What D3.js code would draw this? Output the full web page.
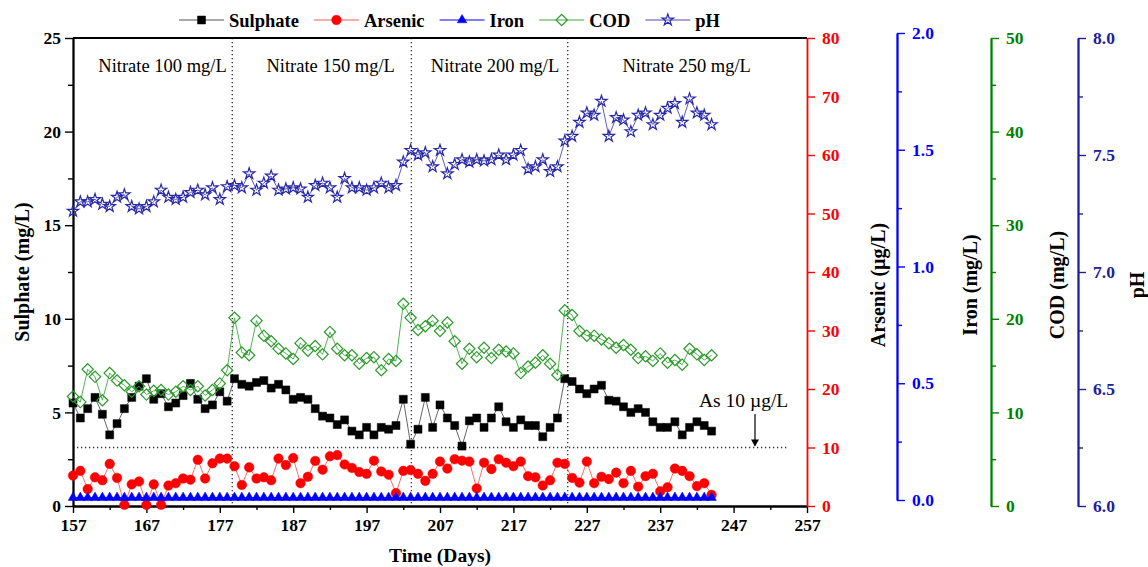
<!DOCTYPE html>
<html>
<head>
<meta charset="utf-8">
<script src="https://cdn.jsdelivr.net/npm/d3@7"></script>
<style>
  body { margin: 0; background: #fff; }
  text { font-family: "Liberation Serif", "Times New Roman", serif; }
</style>
</head>
<body>
<div id="chart"></div>
<script>
var days = [157,158,159,160,161,162,163,164,165,166,167,168,169,170,171,172,173,174,175,176,177,178,
  179,180,181,182,183,184,185,186,187,188,189,190,191,192,193,194,195,196,197,198,199,200,
  201,202,203,204,205,206,207,208,209,210,211,212,213,214,215,216,217,218,219,220,221,222,
  223,224,225,226,227,228,229,230,231,232,233,234,235,236,237,238,239,240,241,242,243,244];

var sulphate = [5.5,4.7,5.2,5.8,4.9,3.8,4.4,5.2,5.8,6.4,6.8,5.7,6.0,5.3,5.5,5.9,6.55,5.7,5.2,5.4,6.1,5.6,
  6.8,6.5,6.4,6.6,6.7,6.3,6.5,6.2,5.7,5.8,5.7,5.2,4.8,4.7,4.35,4.6,4.0,3.8,4.2,3.8,4.2,4.1,
  4.3,5.7,3.3,4.1,5.8,4.2,5.4,4.7,4.3,3.2,4.55,4.7,4.2,4.7,5.3,4.5,4.2,4.6,4.3,4.3,3.7,4.2,
  4.7,6.8,6.65,6.25,6.0,6.25,6.45,5.65,5.6,5.3,5.0,5.2,5.0,4.5,4.2,4.2,4.5,3.8,4.2,4.5,4.3,4.0];

var arsenic = [5.2,6.0,2.9,4.9,4.4,7.2,4.8,0.2,3.7,4.2,0.2,3.7,0.2,3.5,3.9,4.7,4.5,7.9,4.7,7.3,8.1,8.1,
  6.8,3.6,6.6,4.7,4.9,4.4,8.1,7.0,8.2,3.9,5.0,7.7,6.2,8.5,8.7,7.1,6.5,5.8,5.5,7.75,5.9,5.35,
  2.2,6.0,6.15,5.5,4.3,5.5,7.6,6.4,8.0,7.75,7.6,3.0,7.4,6.3,8.0,7.4,6.8,7.6,5.1,4.9,3.5,4.4,
  7.4,7.2,4.8,4.0,7.6,3.9,5.0,4.6,5.7,3.9,6.0,3.3,5.1,5.5,2.5,3.2,6.4,6.0,5.1,3.4,3.9,1.9];

var iron = [0.01,0.01,0.01,0.01,0.01,0.01,0.01,0.01,0.01,0.01,0.01,0.01,0.01,0.01,0.01,0.01,0.01,0.01,0.01,0.01,0.01,0.01,
  0.01,0.01,0.01,0.01,0.01,0.01,0.01,0.01,0.01,0.01,0.01,0.01,0.01,0.01,0.01,0.01,0.01,0.01,0.01,0.01,0.01,0.01,
  0.01,0.01,0.01,0.01,0.01,0.01,0.01,0.01,0.01,0.01,0.01,0.01,0.01,0.01,0.01,0.01,0.01,0.01,0.01,0.01,0.01,0.01,
  0.01,0.01,0.01,0.01,0.01,0.01,0.01,0.01,0.01,0.01,0.01,0.01,0.01,0.01,0.01,0.01,0.01,0.01,0.01,0.01,0.01,0.01];

var cod = [11.7,11.1,14.6,13.8,11.3,14.2,13.4,12.9,12.2,12.8,11.9,12.3,12.4,11.9,12.2,12.8,12.4,12.8,11.8,12.4,13.1,14.5,
  20.1,16.4,16.1,19.8,18.2,17.6,16.8,16.3,15.7,17.4,16.6,17.1,16.2,18.6,16.8,16.1,16.1,15.2,15.8,15.9,14.5,15.7,
  15.5,21.6,20.1,18.8,19.2,19.8,18.7,19.6,17.6,15.2,16.8,15.9,16.9,15.8,16.7,16.5,16.3,14.2,14.9,15.3,16.1,15.2,
  14.0,20.9,20.4,18.7,18.2,18.2,17.8,17.4,16.9,17.2,16.7,15.8,16.0,15.5,16.3,15.3,15.6,15.1,16.8,16.2,15.6,16.1];

var ph = [7.26,7.30,7.30,7.31,7.29,7.28,7.32,7.33,7.28,7.27,7.28,7.30,7.35,7.32,7.31,7.32,7.34,7.35,7.33,7.36,7.31,7.365,
  7.37,7.36,7.42,7.35,7.38,7.41,7.35,7.355,7.36,7.355,7.32,7.37,7.38,7.36,7.32,7.40,7.36,7.36,7.35,7.36,7.38,7.36,
  7.37,7.47,7.52,7.50,7.51,7.45,7.52,7.42,7.46,7.48,7.47,7.48,7.475,7.48,7.50,7.48,7.50,7.52,7.44,7.45,7.48,7.43,
  7.45,7.56,7.58,7.64,7.68,7.67,7.73,7.58,7.66,7.65,7.60,7.67,7.68,7.63,7.67,7.70,7.72,7.64,7.74,7.68,7.67,7.63];

var xTicks = [157,167,177,187,197,207,217,227,237,247,257];
var sulTicks = [0,5,10,15,20,25];
var asTicks = [0,10,20,30,40,50,60,70,80];
var feTicks = [0.0,0.5,1.0,1.5,2.0];
var codTicks = [0,10,20,30,40,50];
var phTicks = [6.0,6.5,7.0,7.5,8.0];

var phaseLabels = ['Nitrate 100 mg/L','Nitrate 150 mg/L','Nitrate 200 mg/L','Nitrate 250 mg/L'];
var phaseBreaks = [178.7, 203.1, 224.4];
var asLimit = 10;
var seriesNames = ['Sulphate','Arsenic','Iron','COD','pH'];

// layout
var W = 1148, H = 567;
var pLeft = 73, pRight = 807, pTop = 38, pBottom = 506;
var fontStack = '"Liberation Serif","Times New Roman",serif';

var svg = d3.select('#chart').append('svg')
  .attr('width', W).attr('height', H);

var x = d3.scaleLinear().domain([157, 257]).range([pLeft, pRight]);
var ySul = d3.scaleLinear().domain([0, 25]).range([pBottom, pTop]);
var yAs = d3.scaleLinear().domain([0, 80]).range([pBottom, pTop]);
var yFe = d3.scaleLinear().domain([0, 2]).range([500, 33]);
var yCod = d3.scaleLinear().domain([0, 50]).range([pBottom, pTop]);
var yPh = d3.scaleLinear().domain([6, 8]).range([pBottom, pTop]);

function styleAxis(g, color) {
  g.selectAll('path.domain').style('stroke', color).style('stroke-width', '1.8px');
  g.selectAll('.tick line').style('stroke', color).style('stroke-width', '1.4px');
  g.selectAll('.tick text')
    .style('fill', color)
    .style('font-family', fontStack)
    .style('font-weight', 'bold')
    .style('font-size', '17.5px');
}

function minorBetween(ticks) {
  var out = [];
  for (var i = 0; i < ticks.length - 1; i++) out.push((ticks[i] + ticks[i + 1]) / 2);
  return out;
}

// dotted phase separators and the 10 ug/L limit
phaseBreaks.forEach(function(d) {
  svg.append('line')
    .attr('x1', x(d)).attr('x2', x(d))
    .attr('y1', pTop).attr('y2', pBottom)
    .style('stroke', '#333').style('stroke-width', '1.3px')
    .style('stroke-dasharray', '1.3 2.7');
});

svg.append('line')
  .attr('x1', pLeft).attr('x2', 787)
  .attr('y1', yAs(asLimit)).attr('y2', yAs(asLimit))
  .style('stroke', '#333').style('stroke-width', '1.3px')
  .style('stroke-dasharray', '1.3 2.7');

// phase labels
var phaseCentres = [169.2, 192.1, 214.5, 240.6];
phaseLabels.forEach(function(t, i) {
  svg.append('text')
    .attr('x', x(phaseCentres[i])).attr('y', 72)
    .attr('text-anchor', 'middle')
    .style('font-size', '18.5px')
    .text(t);
});

// x axis
var gx = svg.append('g').attr('transform', 'translate(0,' + pBottom + ')')
  .call(d3.axisBottom(x).tickValues(xTicks).tickSize(7).tickSizeOuter(0).tickPadding(6).tickFormat(d3.format('d')));
styleAxis(gx, '#000');
var gx2 = svg.append('g').attr('transform', 'translate(0,' + pBottom + ')')
  .call(d3.axisBottom(x).tickValues(minorBetween(xTicks)).tickSize(4).tickSizeOuter(0).tickFormat(''));
styleAxis(gx2, '#000');

// top frame
svg.append('line')
  .attr('x1', pLeft).attr('x2', pRight).attr('y1', pTop).attr('y2', pTop)
  .style('stroke', '#000').style('stroke-width', '1.8px');

// left axis
var gy = svg.append('g').attr('transform', 'translate(' + pLeft + ',0)')
  .call(d3.axisLeft(ySul).tickValues(sulTicks).tickSize(8).tickSizeOuter(0).tickPadding(4).tickFormat(d3.format('d')));
styleAxis(gy, '#000');
var gy2 = svg.append('g').attr('transform', 'translate(' + pLeft + ',0)')
  .call(d3.axisLeft(ySul).tickValues(minorBetween(sulTicks)).tickSize(5).tickSizeOuter(0).tickFormat(''));
styleAxis(gy2, '#000');

// right axes
var rightAxes = [
  {scale: yAs, ticks: asTicks, minor: [], pos: pRight, color: '#ff0000', fmt: d3.format('d'), title: 'Arsenic (\u00b5g/L)', tx: 878},
  {scale: yFe, ticks: feTicks, minor: minorBetween(feTicks), pos: 897, color: '#0000ff', fmt: d3.format('.1f'), title: 'Iron (mg/L)', tx: 970},
  {scale: yCod, ticks: codTicks, minor: minorBetween(codTicks), pos: 991, color: '#008000', fmt: d3.format('d'), title: 'COD (mg/L)', tx: 1057},
  {scale: yPh, ticks: phTicks, minor: minorBetween(phTicks), pos: 1078, color: '#20209c', fmt: d3.format('.1f'), title: 'pH', tx: 1137}
];

rightAxes.forEach(function(a) {
  var g = svg.append('g').attr('transform', 'translate(' + a.pos + ',0)')
    .call(d3.axisRight(a.scale).tickValues(a.ticks).tickSize(8).tickSizeOuter(0).tickPadding(7).tickFormat(a.fmt));
  styleAxis(g, a.color);
  if (a.minor.length) {
    var g2 = svg.append('g').attr('transform', 'translate(' + a.pos + ',0)')
      .call(d3.axisRight(a.scale).tickValues(a.minor).tickSize(5).tickSizeOuter(0).tickFormat(''));
    styleAxis(g2, a.color);
  }
  svg.append('text')
    .attr('transform', 'translate(' + a.tx + ',285) rotate(-90)')
    .attr('text-anchor', 'middle').attr('dy', '0.35em')
    .style('font-weight', 'bold').style('font-size', '20px')
    .text(a.title);
});

// axis titles
svg.append('text')
  .attr('transform', 'translate(22,272) rotate(-90)')
  .attr('text-anchor', 'middle').attr('dy', '0.35em')
  .style('font-weight', 'bold').style('font-size', '20px')
  .text('Sulphate (mg/L)');

svg.append('text')
  .attr('x', 440).attr('y', 562)
  .attr('text-anchor', 'middle')
  .style('font-weight', 'bold').style('font-size', '19.5px')
  .text('Time (Days)');

// series
var series = [
  {vals: sulphate, scale: ySul, sym: d3.symbolSquare, size: 64, rot: 0, stroke: '#000', fill: '#000', line: '#555'},
  {vals: arsenic, scale: yAs, sym: d3.symbolCircle, size: 72, rot: 0, stroke: '#ff0000', fill: '#ff0000', line: '#ff5a5a'},
  {vals: iron, scale: yFe, sym: d3.symbolTriangle, size: 40, rot: 0, stroke: '#0000ff', fill: '#0000ff', line: '#0000ff'},
  {vals: cod, scale: yCod, sym: d3.symbolSquare, size: 64, rot: 45, stroke: '#2a9a2a', fill: 'none', line: '#3fa83f'},
  {vals: ph, scale: yPh, sym: d3.symbolStar, size: 40, rot: 0, stroke: '#2828a8', fill: 'none', line: '#4a4ab8'}
];

series.forEach(function(s) {
  var pts = days.map(function(d, i) { return [x(d), s.scale(s.vals[i])]; });
  svg.append('path')
    .attr('d', d3.line()(pts))
    .style('fill', 'none')
    .style('stroke', s.line)
    .style('stroke-width', '0.9px');
  svg.append('g').selectAll('path')
    .data(pts)
    .enter().append('path')
    .attr('transform', function(p) { return 'translate(' + p[0] + ',' + p[1] + ') rotate(' + s.rot + ')'; })
    .attr('d', d3.symbol().type(s.sym).size(s.size))
    .style('fill', s.fill)
    .style('stroke', s.stroke)
    .style('stroke-width', s.fill === 'none' ? '1.2px' : '0.5px');
});

// As limit annotation
svg.append('text')
  .attr('x', 699).attr('y', 407)
  .style('font-size', '19.5px')
  .text('As 10 \u00b5g/L');
svg.append('line')
  .attr('x1', 755).attr('x2', 755).attr('y1', 414).attr('y2', yAs(asLimit) - 2)
  .style('stroke', '#000').style('stroke-width', '1.2px');
svg.append('path')
  .attr('d', 'M751,' + (yAs(asLimit) - 8) + 'L759,' + (yAs(asLimit) - 8) + 'L755,' + (yAs(asLimit) - 1) + 'Z')
  .style('fill', '#000');

// legend
var legend = svg.append('g').attr('class', 'legend');
var lx = 179;
series.forEach(function(s, i) {
  var ly = 20;
  legend.append('line')
    .attr('x1', lx).attr('x2', lx + 45).attr('y1', ly).attr('y2', ly)
    .style('stroke', s.line).style('stroke-width', '1.2px');
  legend.append('path')
    .attr('transform', 'translate(' + (lx + 22.5) + ',' + ly + ') rotate(' + s.rot + ')')
    .attr('d', d3.symbol().type(s.sym).size(s.size))
    .style('fill', s.fill).style('stroke', s.stroke)
    .style('stroke-width', s.fill === 'none' ? '1.2px' : '0.5px');
  var t = legend.append('text')
    .attr('x', lx + 50).attr('y', ly + 6.5)
    .style('font-weight', 'bold').style('font-size', '18.5px')
    .text(seriesNames[i]);
  lx = lx + 50 + t.node().getComputedTextLength() + 15;
});
</script>
</body>
</html>
